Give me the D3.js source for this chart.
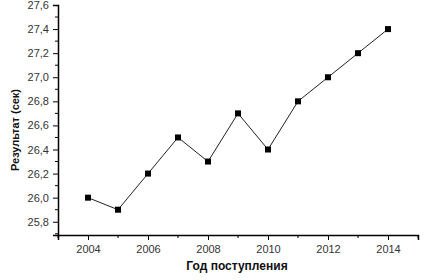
<!DOCTYPE html>
<html>
<head>
<meta charset="utf-8">
<script src="https://cdn.jsdelivr.net/npm/d3@7"></script>
<style>
  body { margin: 0; background: #fff; }
  text { font-family: "Liberation Sans", Arial, sans-serif; }
</style>
</head>
<body>
<script>
  // values
  var years = [2004, 2005, 2006, 2007, 2008, 2009, 2010, 2011, 2012, 2013, 2014];
  var results = [26.0, 25.9, 26.2, 26.5, 26.3, 26.7, 26.4, 26.8, 27.0, 27.2, 27.4];
  var xTicks = [2004, 2006, 2008, 2010, 2012, 2014];
  var yTicks = [25.8, 26.0, 26.2, 26.4, 26.6, 26.8, 27.0, 27.2, 27.4, 27.6];
  var xLabel = "Год поступления";
  var yLabel = "Результат (сек)";

  var width = 434,
    height = 280;

  var svg = d3.select("body").append("svg")
    .attr("width", width)
    .attr("height", height);

  var x = d3.scaleLinear().domain([2003, 2015]).range([58, 418]);
  var y = d3.scaleLinear().domain([25.69, 27.6]).range([235, 5]);

  var fmt = function(d) { return d3.format(".1f")(d).replace(".", ","); };

  // minor ticks
  var xMinor = d3.range(2003, 2016, 1).filter(function(d) { return xTicks.indexOf(d) < 0; });
  var yMinor = d3.range(25.7, 27.6, 0.2).map(function(d) { return +d.toFixed(1); });

  svg.append("g").selectAll("line").data(xMinor).enter().append("line")
    .attr("x1", function(d) { return x(d); }).attr("x2", function(d) { return x(d); })
    .attr("y1", 235).attr("y2", 238)
    .attr("stroke", "#000");

  svg.append("g").selectAll("line").data(yMinor).enter().append("line")
    .attr("y1", function(d) { return y(d); }).attr("y2", function(d) { return y(d); })
    .attr("x1", 55).attr("x2", 58)
    .attr("stroke", "#000");

  var xAxis = svg.append("g")
    .attr("transform", "translate(0,235)")
    .call(d3.axisBottom(x).tickValues(xTicks).tickFormat(d3.format("d")).tickSizeOuter(0).tickSize(5).tickPadding(5));

  var yAxis = svg.append("g")
    .attr("transform", "translate(58,0)")
    .call(d3.axisLeft(y).tickValues(yTicks).tickFormat(fmt).tickSizeOuter(0).tickSize(5).tickPadding(4));

  [xAxis, yAxis].forEach(function(a) {
    a.select(".domain").attr("stroke-width", 1.5);
    a.selectAll("text").attr("font-size", 11).attr("fill", "#333")
      .style("font-family", "'Liberation Sans', Arial, sans-serif");
  });

  var line = d3.line()
    .x(function(d, i) { return x(years[i]); })
    .y(function(d) { return y(d); });

  svg.append("path")
    .datum(results)
    .attr("d", line)
    .attr("fill", "none")
    .attr("stroke", "#222")
    .attr("stroke-width", 1);

  svg.append("g").selectAll("rect").data(results).enter().append("rect")
    .attr("x", function(d, i) { return x(years[i]) - 3; })
    .attr("y", function(d) { return y(d) - 3; })
    .attr("width", 6)
    .attr("height", 6)
    .attr("fill", "#000");

  svg.append("text")
    .attr("x", 237).attr("y", 270)
    .attr("text-anchor", "middle")
    .attr("font-size", 12).attr("font-weight", "bold")
    .attr("fill", "#111")
    .text(xLabel);

  // y label is narrower in the original, squeeze it a bit
  svg.append("text")
    .attr("transform", "translate(19,130) rotate(-90)")
    .attr("text-anchor", "middle")
    .attr("font-size", 11.5).attr("font-weight", "bold")
    .attr("textLength", 82).attr("lengthAdjust", "spacingAndGlyphs")
    .attr("fill", "#111")
    .text(yLabel);
</script>
</body>
</html>
